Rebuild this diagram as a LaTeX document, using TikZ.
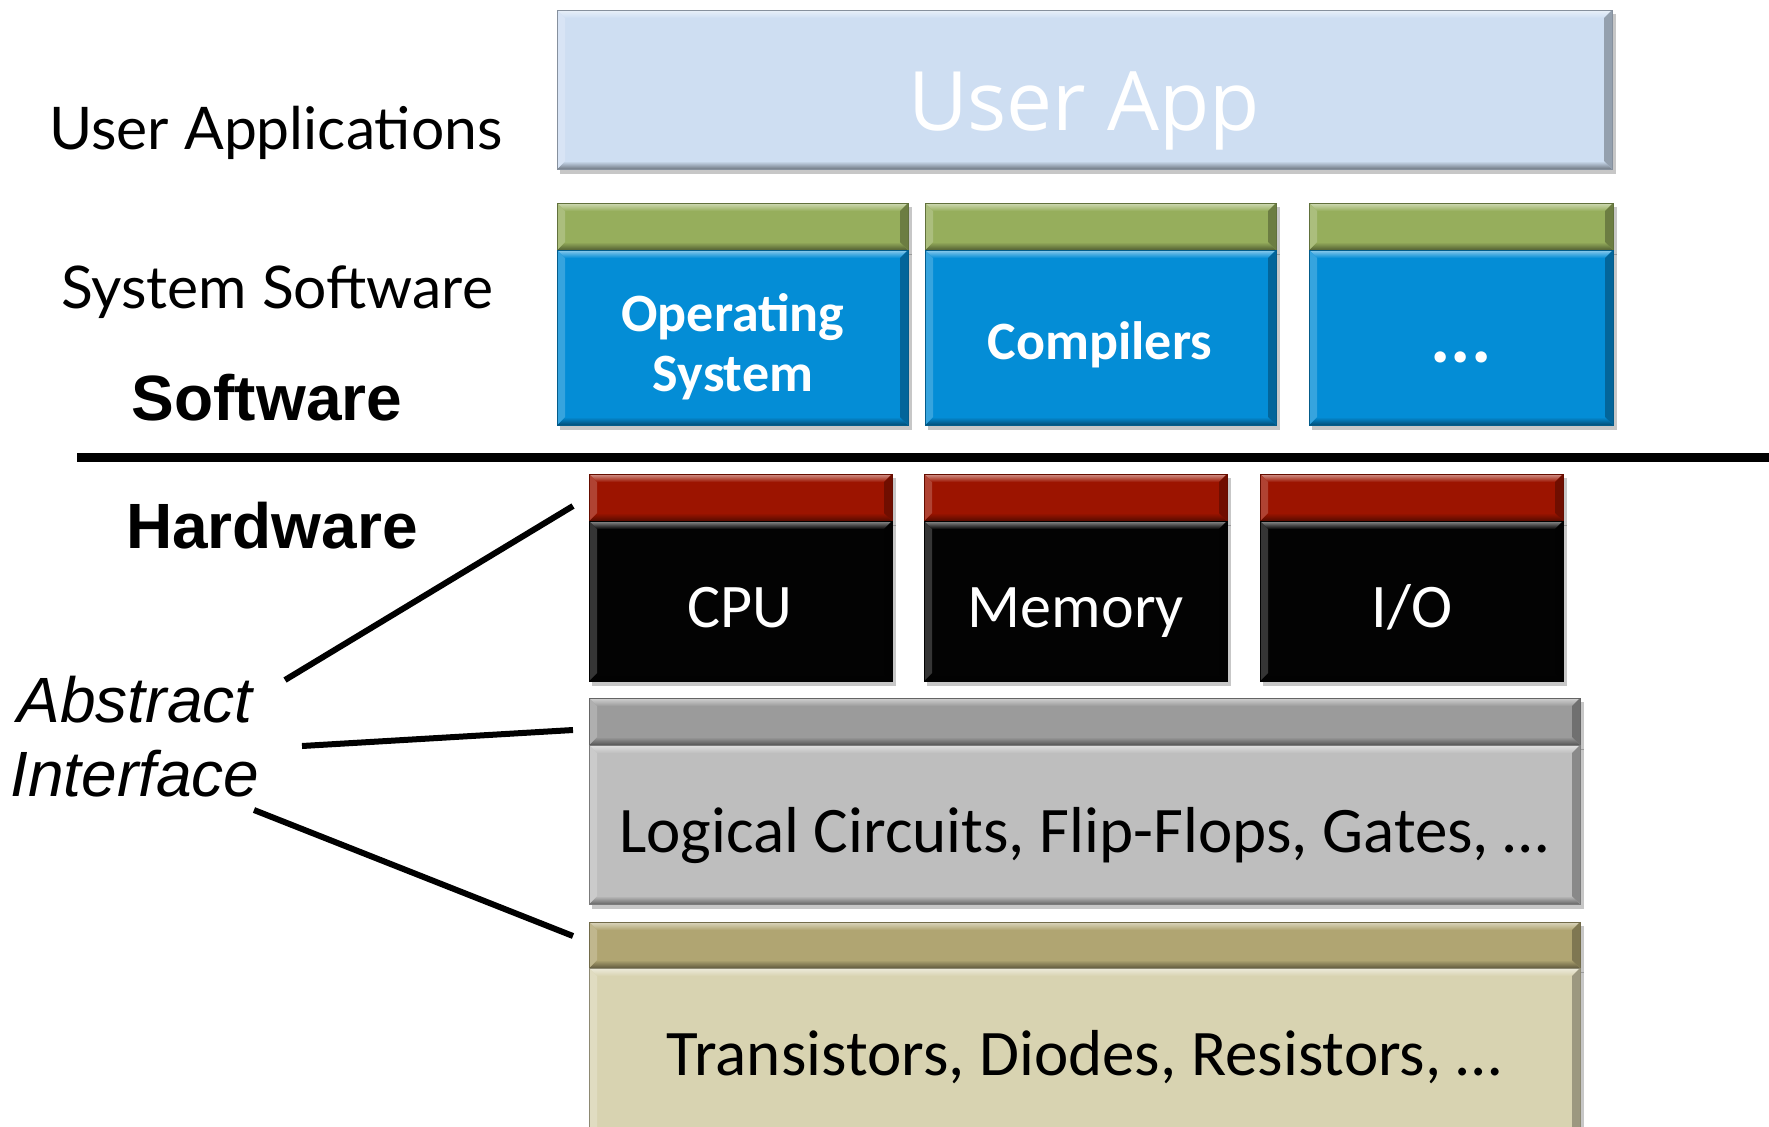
\documentclass[tikz,border=0pt]{standalone}
\usepackage{fontspec}
\setmainfont{Carlito}
\newfontfamily\arialfont{Liberation Sans}
\newfontfamily\humanfont{Lato}
\newfontfamily\appfont{Open Sans}

\definecolor{appblue}{HTML}{CEDEF2}
\definecolor{bargreen}{HTML}{96AE5C}
\definecolor{osblue}{HTML}{048DD6}
\definecolor{hwred}{HTML}{9C1400}
\definecolor{hwblack}{HTML}{030303}
\definecolor{graydark}{HTML}{9B9B9B}
\definecolor{graylight}{HTML}{BEBEBE}
\definecolor{tandark}{HTML}{B0A572}
\definecolor{tanlight}{HTML}{D8D3B1}

% beveled slab: x1, y1, x2, y2, colour
\newcommand\slab[5]{%
  \fill[black,opacity=0.22] (#1+3,#2+4) rectangle (#3+4,#4+5);
  \fill[#5] (#1,#2) rectangle (#3,#4);
  \shade[top color=#5!45!white,bottom color=#5]
    (#1,#2) -- (#3,#2) -- (#3-8,#2+8) -- (#1+8,#2+8) -- cycle;
  \shade[top color=#5,bottom color=#5!55!black]
    (#1,#4) -- (#3,#4) -- (#3-8,#4-8) -- (#1+8,#4-8) -- cycle;
  \fill[#5!80!white]
    (#1,#2) -- (#1+8,#2+8) -- (#1+8,#4-8) -- (#1,#4) -- cycle;
  \fill[#5!72!black]
    (#3,#2) -- (#3-8,#2+8) -- (#3-8,#4-8) -- (#3,#4) -- cycle;
  \draw[#5!65!black,line width=0.4pt] (#1,#2) rectangle (#3,#4);
}

\tikzset{
  sidelabel/.style={anchor=base,font=\humanfont\fontsize{29.4}{34}\selectfont},
  layerlabel/.style={anchor=base,font=\arialfont\bfseries\fontsize{32}{38}\selectfont},
  boxtext/.style={anchor=base,font=\fontsize{31}{37}\selectfont},
  rowtext/.style={anchor=base,font=\fontsize{32.5}{38}\selectfont},
  swtext/.style={anchor=base,text=white,font=\bfseries\fontsize{27}{31}\selectfont},
  leader/.style={line width=3pt,black},
}

\begin{document}
\begin{tikzpicture}[x=0.5pt,y=-0.5pt]
\useasboundingbox (0,0) rectangle (1769,1126);
\clip (0,0) rectangle (1769,1126);
\fill[white] (0,0) rectangle (1769,1126);

% application layer
\slab{557}{10}{1612}{169}{appblue}
\node[anchor=base,text=white,font=\appfont\fontsize{41}{48}\selectfont] (app) at (1084,130) {User App};

% system software
\slab{557}{203}{908}{250}{bargreen}
\slab{557}{250}{908}{425}{osblue}
\slab{925}{203}{1276}{250}{bargreen}
\slab{925}{250}{1276}{425}{osblue}
\slab{1309}{203}{1613}{250}{bargreen}
\slab{1309}{250}{1613}{425}{osblue}
\node[swtext,align=center] (os) at (733,391) {Operating\\[-1pt]System};
\node[swtext] (comp) at (1100,359) {Compilers};
\node[swtext,font=\bfseries\fontsize{38}{40}\selectfont] (more) at (1461,362) {...};

% software / hardware separator
\coordinate (sepL) at (77,457);
\coordinate (sepR) at (1769,457);
\draw[line width=4.5pt] (sepL) -- (sepR);

% hardware components
\slab{589}{474}{892}{521}{hwred}
\slab{589}{521}{892}{681}{hwblack}
\slab{924}{474}{1227}{521}{hwred}
\slab{924}{521}{1227}{681}{hwblack}
\slab{1260}{474}{1563}{521}{hwred}
\slab{1260}{521}{1563}{681}{hwblack}
\node[boxtext,text=white] (cpu) at (740,627) {CPU};
\node[boxtext,text=white] (mem) at (1076,627) {Memory};
\node[boxtext,text=white] (io) at (1412,627) {I/O};

% logic layer
\slab{589}{698}{1580}{745}{graydark}
\slab{589}{745}{1580}{904}{graylight}
\node[rowtext] (logic) at (1084,852) {Logical Circuits, Flip-Flops, Gates, …};

% device layer
\slab{589}{922}{1580}{968}{tandark}
\slab{589}{968}{1580}{1150}{tanlight}
\node[rowtext] (dev) at (1084,1075) {Transistors, Diodes, Resistors, …};

% left-hand labels
\node[sidelabel] (ua) at (276,149) {User Applications};
\node[sidelabel] (ss) at (277,308) {System Software};
\node[layerlabel] (sw) at (267,420) {Software};
\node[layerlabel] (hw) at (272,548) {Hardware};
\node[anchor=base,align=center,font=\arialfont\itshape\fontsize{32}{37}\selectfont] (ai) at (135,796) {Abstract\\Interface};

% interface leaders
\coordinate (aiA) at (285,680);
\coordinate (aiB) at (302,746);
\coordinate (aiC) at (254,810);
\coordinate (ifHW) at (573,506);
\coordinate (ifLogic) at (573,730);
\coordinate (ifDev) at (573,936);
\draw[leader] (aiA) -- (ifHW);
\draw[leader] (aiB) -- (ifLogic);
\draw[leader] (aiC) -- (ifDev);
\end{tikzpicture}
\end{document}
